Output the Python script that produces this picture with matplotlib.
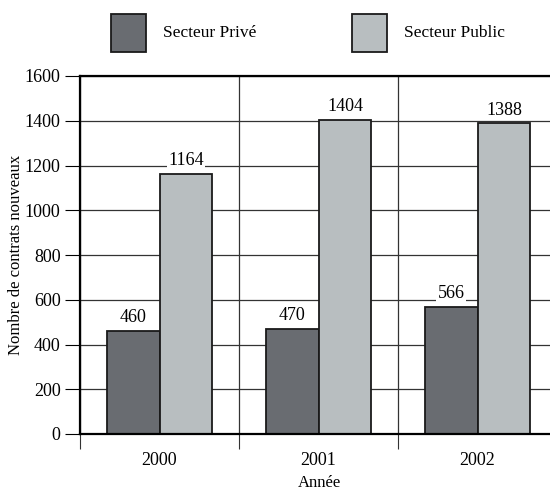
import matplotlib.pyplot as plt
import numpy as np
from matplotlib.patches import Rectangle

plt.rcParams['font.family'] = ['Liberation Serif', 'DejaVu Serif']

years = ['2000', '2001', '2002']
prive = [460, 470, 566]
public = [1164, 1404, 1388]
series_names = ['Secteur Privé', 'Secteur Public']
colors = ['#696c71', '#b8bec0']

fig = plt.figure(figsize=(5.5, 4.91), dpi=100)
ax = fig.add_axes([80 / 550, 57 / 491, 477 / 550, 358 / 491])

x = np.arange(len(years))
w = 0.333
for vals, off, col in [(prive, -w / 2, colors[0]), (public, w / 2, colors[1])]:
    bars = ax.bar(x + off, vals, width=w, color=col, edgecolor='#1a1a1a',
                  linewidth=1.3, zorder=3)
    for b, v in zip(bars, vals):
        ax.text(b.get_x() + b.get_width() / 2, v + 22, str(v), ha='center',
                va='bottom', fontsize=13, zorder=4,
                bbox=dict(facecolor='white', edgecolor='none', pad=1))

ax.set_xlim(-0.5, 2.5)
ax.set_ylim(0, 1600)
ax.set_yticks(np.arange(0, 1601, 200))
ax.set_xticks(x)
ax.set_xticklabels(years)
ax.set_xticks(np.arange(-0.5, 3, 1), minor=True)
ax.tick_params(axis='x', which='major', length=0, pad=13, labelsize=13)
ax.tick_params(axis='x', which='minor', length=11, width=0.8, color='#333333')
ax.tick_params(axis='y', length=11, width=0.8, pad=3, labelsize=13)

ax.grid(axis='y', color='#333333', linewidth=0.9, zorder=0)
ax.grid(axis='x', which='minor', color='#333333', linewidth=0.9, zorder=0)
ax.set_axisbelow(True)
for s in ['left', 'bottom', 'top']:
    ax.spines[s].set_linewidth(1.6)
    ax.spines[s].set_zorder(5)
ax.spines['right'].set_visible(False)

ax.set_xlabel('Année', fontsize=12)
ax.xaxis.set_label_coords((160 + 159 - 80) / 477, -41 / 358)
ax.set_ylabel('Nombre de contrats nouveaux', fontsize=12)
ax.yaxis.set_label_coords(-56 / 477, 0.5)

# legend drawn above the plot
for name, col, bx in zip(series_names, colors, [111, 352]):
    fig.add_artist(Rectangle((bx / 550, 1 - 52 / 491), 35 / 550, 38 / 491,
                             transform=fig.transFigure, facecolor=col,
                             edgecolor='#1a1a1a', linewidth=1.3))
    fig.text((bx + 52) / 550, 1 - 33 / 491, name, fontsize=12.5, va='center')

fig.savefig('out.png', dpi=100)
